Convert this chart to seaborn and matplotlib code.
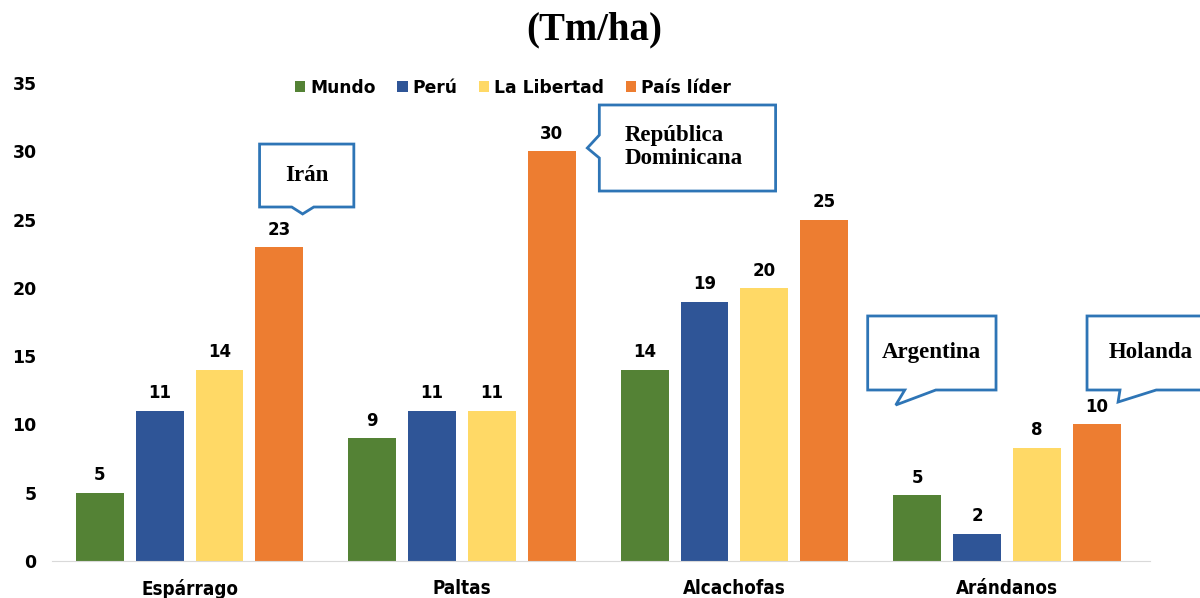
import pandas as pd
import seaborn as sns
import matplotlib.pyplot as plt
from matplotlib.patches import Polygon

# Data (Tm/ha)
cultivos = ['Espárrago', 'Paltas', 'Alcachofas', 'Arándanos']
series = ['Mundo', 'Perú', 'La Libertad', 'País líder']
mundo = [5, 9, 14, 4.8]
peru = [11, 11, 19, 2]
la_libertad = [14, 11, 20, 8.3]
pais_lider = [23, 30, 25, 10]
colores = ['#548235', '#2F5597', '#FFD966', '#ED7D31']

rows = []
for serie, vals in zip(series, [mundo, peru, la_libertad, pais_lider]):
    for c, v in zip(cultivos, vals):
        rows.append({'cultivo': c, 'serie': serie, 'valor': v})
df = pd.DataFrame(rows)

sns.set_style('white')
plt.rcParams['font.family'] = ['DejaVu Sans']
plt.rcParams['text.color'] = 'black'
plt.rcParams['xtick.color'] = 'black'
plt.rcParams['ytick.color'] = 'black'

fig = plt.figure(figsize=(12, 5.98), dpi=100)
ax = fig.add_axes([0.0433, 0.0619, 0.915, 0.7993])

sns.barplot(data=df, x='cultivo', y='valor', hue='serie', palette=colores,
            width=0.88, gap=0.2, saturation=1, linewidth=0, ax=ax)

# value labels on top of bars
for cont in ax.containers:
    ax.bar_label(cont, fmt='%.0f', padding=6, fontsize=12, fontweight='bold',
                 color='black')

ax.set_xlim(-0.505, 3.525)
ax.set_ylim(0, 35)
ax.set_yticks(range(0, 36, 5))
ax.set_xlabel('')
ax.set_ylabel('')
ax.tick_params(length=0)
ax.tick_params(axis='y', pad=11, labelsize=12.5)
ax.tick_params(axis='x', pad=13, labelsize=13.5)
for lab in ax.get_yticklabels() + ax.get_xticklabels():
    lab.set_fontweight('bold')
for lab in ax.get_xticklabels():
    lab.set_fontstretch('condensed')
sns.despine(ax=ax, left=True)
ax.spines['bottom'].set_color('#d9d9d9')

# legend
handles, labels = ax.get_legend_handles_labels()
ax.get_legend().remove()
ax.legend(handles, labels, loc='center', bbox_to_anchor=(0.42, 0.99), ncol=4,
          frameon=False, handlelength=0.6, handleheight=0.6, handletextpad=0.3,
          columnspacing=1.25, prop={'weight': 'bold', 'size': 12.3})

# callouts: speech bubbles with a blue border
serif = 'Liberation Serif'
borde = '#2E75B6'


def bubble(x0, x1, yb, yt, base, tip, side):
    if side == 'bottom':
        pts = [(x0, yb), (base[0], yb), tip, (base[1], yb), (x1, yb), (x1, yt), (x0, yt)]
    else:
        pts = [(x0, yb), (x1, yb), (x1, yt), (x0, yt), (x0, base[0]), tip, (x0, base[1])]
    ax.add_patch(Polygon(pts, closed=True, facecolor='white', edgecolor=borde,
                         linewidth=2, clip_on=False, zorder=5))


bubble(0.257, 0.603, 25.92, 30.53, (0.375, 0.456), (0.415, 25.41), 'bottom')
ax.text(0.430, 28.23, 'Irán', ha='center', va='center', family=serif,
        fontweight='bold', fontsize=16.5, zorder=6)

bubble(1.504, 2.151, 27.09, 33.39, (31.19, 29.51), (1.46, 30.24), 'left')
ax.text(1.596, 30.31, 'República\nDominicana', ha='left', va='center', family=serif,
        fontweight='bold', fontsize=16.5, linespacing=1.1, zorder=6)

bubble(2.489, 2.96, 12.52, 17.94, (2.625, 2.739), (2.592, 11.42), 'bottom')
ax.text(2.724, 15.30, 'Argentina', ha='center', va='center', family=serif,
        fontweight='bold', fontsize=16.5, zorder=6)

bubble(3.294, 3.776, 12.52, 17.94, (3.415, 3.548), (3.408, 11.64), 'bottom')
ax.text(3.528, 15.30, 'Holanda', ha='center', va='center', family=serif,
        fontweight='bold', fontsize=16.5, zorder=6)

fig.text(0.495, 0.95, '(Tm/ha)', ha='center', va='center', family=serif,
         fontweight='bold', fontsize=28)

fig.savefig('out.png', dpi=100)
